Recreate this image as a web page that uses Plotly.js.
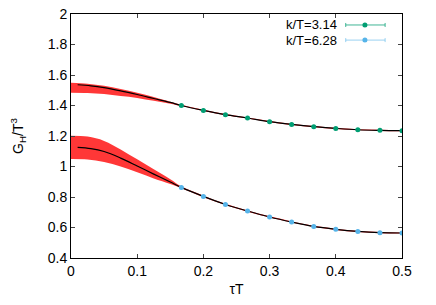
<!DOCTYPE html>
<html>
<head>
<meta charset="utf-8">
<script src="https://cdn.plot.ly/plotly-3.0.1.min.js"></script>
<style>html,body{margin:0;padding:0;background:#fff;}#chart{width:436px;height:305px;}</style>
</head>
<body>
<div id="chart"></div>
<script>
// data points
var tauData = [0.1667, 0.2, 0.2333, 0.2667, 0.3, 0.3333, 0.3667, 0.4, 0.4333, 0.4667, 0.5];
var g314 = [1.400, 1.368, 1.340, 1.318, 1.294, 1.276, 1.261, 1.250, 1.241, 1.237, 1.235];
var g628 = [0.863, 0.804, 0.751, 0.708, 0.669, 0.636, 0.607, 0.588, 0.574, 0.566, 0.564];
var err314 = [0.003, 0.003, 0.003, 0.003, 0.003, 0.003, 0.003, 0.003, 0.003, 0.003, 0.003];
var err628 = [0.003, 0.003, 0.003, 0.003, 0.003, 0.003, 0.003, 0.003, 0.003, 0.003, 0.003];

// fit curves (black)
var fitTau = [0.01, 0.03, 0.05, 0.075, 0.1, 0.125, 0.15, 0.1667, 0.2, 0.2333, 0.2667, 0.3, 0.3333, 0.3667, 0.4, 0.4333, 0.4667, 0.5];
var fit314 = [1.536, 1.529, 1.517, 1.496, 1.472, 1.446, 1.420, 1.400, 1.368, 1.340, 1.318, 1.294, 1.276, 1.261, 1.250, 1.241, 1.237, 1.235];
var fit628 = [1.125, 1.117, 1.098, 1.055, 1.003, 0.950, 0.898, 0.863, 0.804, 0.751, 0.708, 0.669, 0.636, 0.607, 0.588, 0.574, 0.566, 0.564];

// uncertainty bands (red)
var bandTau = [0, 0.025, 0.05, 0.075, 0.1, 0.125, 0.15, 0.1667, 0.2, 0.2333, 0.2667, 0.3, 0.3333, 0.3667, 0.4, 0.4333, 0.4667, 0.5];
var hi314 = [1.549, 1.543, 1.529, 1.508, 1.484, 1.456, 1.425, 1.405, 1.372, 1.344, 1.322, 1.298, 1.280, 1.265, 1.254, 1.245, 1.241, 1.239];
var lo314 = [1.484, 1.482, 1.475, 1.462, 1.450, 1.431, 1.412, 1.396, 1.364, 1.336, 1.314, 1.290, 1.272, 1.257, 1.246, 1.237, 1.233, 1.231];
var hi628 = [1.202, 1.196, 1.168, 1.112, 1.047, 0.982, 0.917, 0.870, 0.809, 0.755, 0.712, 0.673, 0.640, 0.611, 0.592, 0.578, 0.570, 0.568];
var lo628 = [1.049, 1.046, 1.030, 1.000, 0.962, 0.922, 0.886, 0.858, 0.799, 0.747, 0.704, 0.665, 0.632, 0.603, 0.584, 0.570, 0.562, 0.560];

var seriesNames = ['k/T=3.14', 'k/T=6.28'];
var xTickVals = [0, 0.1, 0.2, 0.3, 0.4, 0.5];
var yTickVals = [0.4, 0.6, 0.8, 1, 1.2, 1.4, 1.6, 1.8, 2];

var green = '#009e73', blue = '#56b4e9', red = 'rgba(255,20,20,0.85)';

function band(lo, hi) {
  return [
    {x: bandTau, y: lo, mode: 'lines', line: {width: 0, shape: 'spline'}, hoverinfo: 'skip', showlegend: false},
    {x: bandTau, y: hi, mode: 'lines', line: {width: 0, shape: 'spline'}, fill: 'tonexty', fillcolor: red, hoverinfo: 'skip', showlegend: false}
  ];
}
function fit(y) {
  return {x: fitTau, y: y, mode: 'lines', line: {color: '#000', width: 1.2, shape: 'spline'}, showlegend: false};
}
function pts(y, e, c, n) {
  return {x: tauData, y: y, name: n, mode: 'markers', marker: {color: c, size: 5},
    error_y: {type: 'data', array: e, color: c, thickness: 1, width: 2}, showlegend: false};
}

var data = [].concat(band(lo314, hi314), band(lo628, hi628),
  [fit(fit314), fit(fit628), pts(g314, err314, green, seriesNames[0]), pts(g628, err628, blue, seriesNames[1])]);

var font = {family: 'Liberation Sans, Arial, sans-serif', size: 14, color: '#000'};

// manual gnuplot-style key (text then sample)
var keyY = [0.955, 0.893];
var keyCols = ['rgba(0,158,115,0.75)', 'rgba(86,180,233,0.6)'];
var keyMk = [green, blue];
var shapes = [], annotations = [];
for (var i = 0; i < 2; i++) {
  annotations.push({xref: 'paper', yref: 'paper', x: 0.807, y: keyY[i], text: seriesNames[i], showarrow: false,
    xanchor: 'right', yanchor: 'middle', borderpad: 0,
    font: {family: font.family, size: 13, color: '#000'}});
  shapes.push({type: 'line', xref: 'paper', yref: 'paper', x0: 0.830, x1: 0.949, y0: keyY[i], y1: keyY[i], line: {color: keyCols[i], width: 1}});
  [0.830, 0.949].forEach(function (xc) {
    shapes.push({type: 'line', xref: 'paper', yref: 'paper', xsizemode: 'pixel', ysizemode: 'pixel',
      xanchor: xc, yanchor: keyY[i], x0: 0, x1: 0, y0: -2, y1: 2, line: {color: keyCols[i], width: 1}});
  });
  shapes.push({type: 'circle', xref: 'paper', yref: 'paper', xsizemode: 'pixel', ysizemode: 'pixel',
    xanchor: 0.888, yanchor: keyY[i], x0: -2.5, x1: 2.5, y0: -2.5, y1: 2.5, fillcolor: keyMk[i], line: {width: 0}});
}

var layout = {
  width: 436, height: 305,
  margin: {l: 71, r: 34, t: 14, b: 47},
  paper_bgcolor: '#fff', plot_bgcolor: '#fff',
  font: font,
  showlegend: false,
  xaxis: {range: [0, 0.5], tickvals: xTickVals, ticks: 'inside', ticklen: 4, tickcolor: '#444', mirror: 'ticks',
    showline: true, linecolor: '#000', linewidth: 1, showgrid: false, zeroline: false,
    title: {text: 'τT', font: {family: font.family, size: 14}, standoff: 6}},
  yaxis: {range: [0.4, 2], tickvals: yTickVals, ticks: 'inside', ticklen: 4, tickcolor: '#444', mirror: 'ticks',
    showline: true, linecolor: '#000', linewidth: 1, showgrid: false, zeroline: false,
    title: {text: 'G<sub>H</sub>/T<sup>3</sup>', font: {family: font.family, size: 14}, standoff: 20}},
  shapes: shapes,
  annotations: annotations
};

Plotly.newPlot('chart', data, layout, {displayModeBar: false, staticPlot: true});
</script>
</body>
</html>
